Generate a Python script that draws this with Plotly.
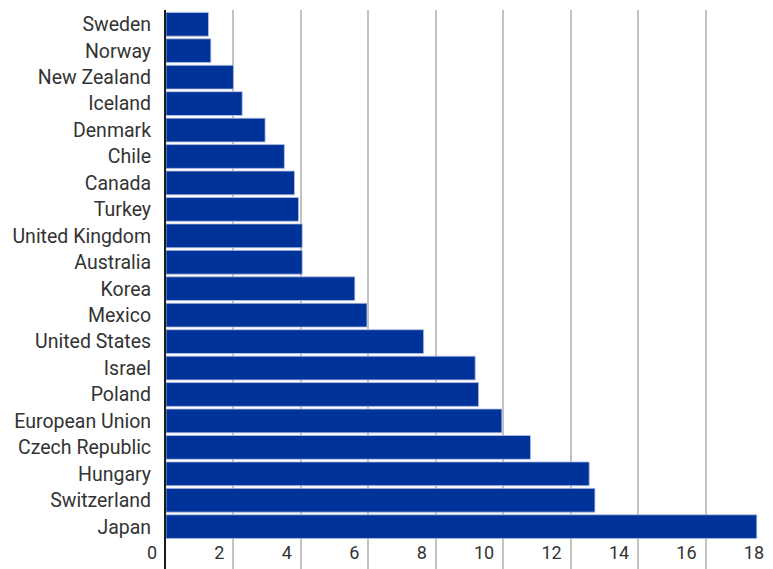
import plotly.graph_objects as go

countries = ["Sweden", "Norway", "New Zealand", "Iceland", "Denmark", "Chile", "Canada",
             "Turkey", "United Kingdom", "Australia", "Korea", "Mexico", "United States",
             "Israel", "Poland", "European Union", "Czech Republic", "Hungary",
             "Switzerland", "Japan"]
values = [1.26, 1.33, 2.0, 2.26, 2.94, 3.51, 3.81, 3.93, 4.04, 4.04, 5.6, 5.96, 7.64,
          9.17, 9.27, 9.96, 10.81, 12.55, 12.72, 17.52]
x_ticks = [0, 2, 4, 6, 8, 10, 12, 14, 16, 18]

fig = go.Figure(go.Bar(
    x=values, y=countries, orientation="h",
    marker=dict(color="#003399", line=dict(color="#b8c3e6", width=0.8)),
))

# the page body adds an 8px margin, so the figure is offset by 8px
fig.update_layout(
    width=765, height=561,
    margin=dict(l=158, r=0, t=2, b=0),
    paper_bgcolor="white", plot_bgcolor="white",
    bargap=0.1,
    showlegend=False,
    font=dict(family="Roboto", size=19, color="#333333"),
)
fig.update_xaxes(
    range=[0, 18], tickvals=x_ticks, ticks="",
    showgrid=True, gridcolor="#c2c2c2", gridwidth=1.5,
    zeroline=False, showline=False,
    ticklabelposition="inside left",
    ticklabeloverflow="allow",
    ticklabelshift=-9,
    tickfont=dict(size=18, color="#333333"),
)
fig.update_yaxes(
    categoryorder="array", categoryarray=countries,
    range=[20.6, -0.54],
    showline=True, linecolor="#1a1a1a", linewidth=2,
    ticks="", ticklabelstandoff=9,
    tickfont=dict(size=19.5, color="#333333"),
    showgrid=False,
)

fig.write_html("out.html")
